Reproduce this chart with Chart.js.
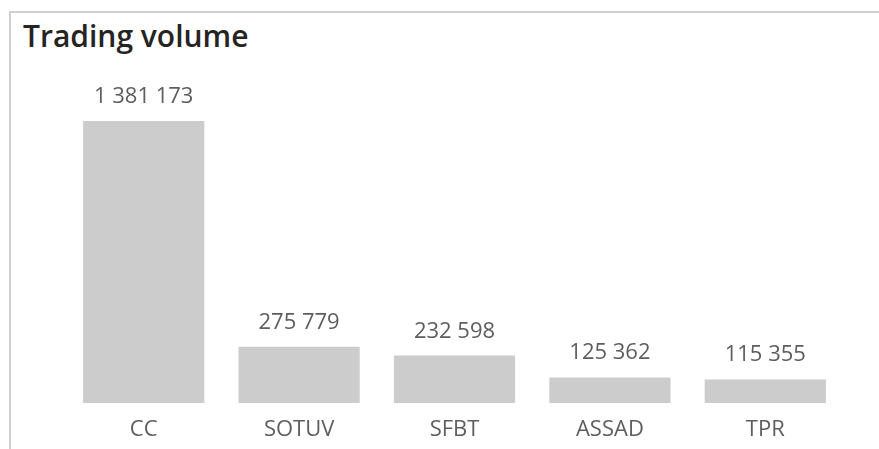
<!DOCTYPE html>
<html>
<head>
<meta charset="utf-8">
<script src="https://cdn.jsdelivr.net/npm/chart.js@4/dist/chart.umd.min.js"></script>
<style>
  body { margin: 0; background: #fff; }
  #wrap { position: relative; width: 879px; height: 449px; overflow: hidden; }
  #frame { position: absolute; left: 9px; top: 11px; right: 0; bottom: 0;
           border-top: 2px solid #d0d0d0; border-left: 2px solid #d0d0d0; }
  #title { position: absolute; left: 23px; top: 15px; font-family: "Open Sans", sans-serif;
           font-size: 30px; font-weight: 600; color: #252423; }
  canvas { position: absolute; left: 0; top: 0; }
</style>
</head>
<body>
<div id="wrap">
  <div id="frame"></div>
  <div id="title">Trading volume</div>
  <canvas id="myChart" width="879" height="449"></canvas>
</div>
<script>
var tickers = ["CC", "SOTUV", "SFBT", "ASSAD", "TPR"];
var volumes = [1381173, 275779, 232598, 125362, 115355];

function fmt(v) {
  return String(v).replace(/\B(?=(\d{3})+(?!\d))/g, ' ');
}

var labelPlugin = {
  id: 'barLabels',
  afterDatasetsDraw: function(chart) {
    var ctx = chart.ctx;
    var meta = chart.getDatasetMeta(0);
    ctx.save();
    ctx.font = '22px "Open Sans", sans-serif';
    ctx.fillStyle = '#605e5c';
    ctx.textAlign = 'center';
    ctx.textBaseline = 'alphabetic';
    meta.data.forEach(function(bar, i) {
      ctx.fillText(fmt(volumes[i]), bar.x, bar.y - 18);
    });
    ctx.restore();
  }
};

var ctx = document.getElementById('myChart');
var myChart = new Chart(ctx, {
  type: 'bar',
  data: {
    labels: tickers,
    datasets: [{
      data: volumes,
      backgroundColor: '#cccccc',
      barPercentage: 0.78,
      categoryPercentage: 1
    }]
  },
  options: {
    responsive: false,
    animation: false,
    layout: { padding: { left: 66, right: 36, top: 121, bottom: 8 } },
    plugins: { legend: { display: false }, tooltip: { enabled: false } },
    scales: {
      x: {
        grid: { display: false },
        border: { display: false },
        ticks: { color: '#605e5c', font: { family: 'Open Sans', size: 22 }, padding: 6,
                 maxRotation: 0, autoSkip: false },
        afterFit: function(scale) { scale.height = 38; }
      },
      y: { display: false, min: 0, max: 1381173 }
    }
  },
  plugins: [labelPlugin]
});
</script>
</body>
</html>
